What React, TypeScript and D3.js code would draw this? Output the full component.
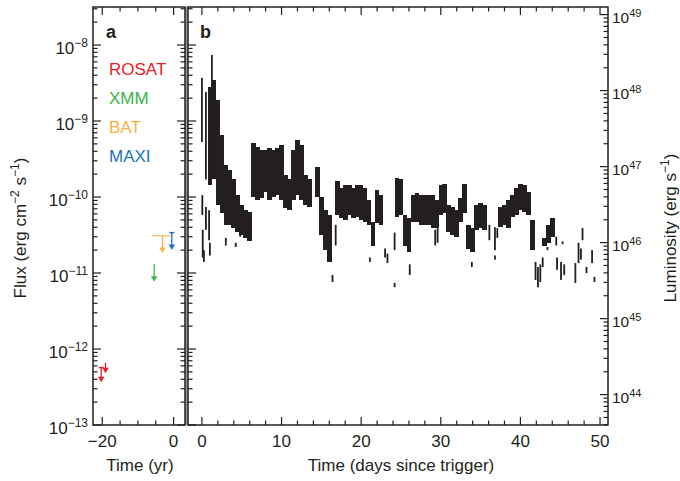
import * as d3 from "d3";
import React from "react";

const FONT = "'Liberation Sans', Arial, Helvetica, sans-serif";
const INK = "#231f20";

// panel b, dense part of the light curve in 0.5 d bins: [day, flux high, flux low]
const denseBins: [number, number, number][] = [
  [1.0, 2.8e-9, 1.45e-10], [1.5, 3.5e-9, 1.7e-10], [2.0, 1.9e-9, 7.9e-11],
  [2.5, 6.6e-10, 6.2e-11], [3.0, 2.6e-10, 4.3e-11], [3.5, 2.3e-10, 4.3e-11],
  [4.0, 1.7e-10, 3.9e-11], [4.5, 1.06e-10, 3.5e-11], [5.0, 7.9e-11, 3.2e-11],
  [5.5, 6.7e-11, 2.9e-11], [6.0, 6.4e-11, 2.6e-11], [6.5, 5.1e-10, 1.0e-10],
  [7.0, 4.5e-10, 9.1e-11], [7.5, 4.15e-10, 9.7e-11], [8.0, 4.15e-10, 1.16e-10],
  [8.5, 4.4e-10, 9.1e-11], [9.0, 4.15e-10, 1.0e-10], [9.5, 4.4e-10, 1.06e-10],
  [10.0, 4.8e-10, 9.1e-11], [10.5, 1.95e-10, 7.2e-11], [11.0, 1.7e-10, 6.7e-11],
  [11.5, 4.15e-10, 9.1e-11], [12.0, 5.6e-10, 1.06e-10], [12.5, 4.8e-10, 9.1e-11],
  [13.0, 1.95e-10, 7.9e-11], [13.5, 1.7e-10, 7.4e-11], [14.5, 2.5e-10, 1.0e-10],
  [15.0, 1.0e-10, 3.2e-11], [15.5, 6.7e-11, 2.0e-11], [16.0, 5.8e-11, 1.4e-11],
  [17.0, 1.6e-10, 5.8e-11], [17.5, 1.3e-10, 5.3e-11], [18.0, 1.44e-10, 5.0e-11],
  [18.5, 1.44e-10, 5.8e-11], [19.0, 1.3e-10, 5.3e-11], [19.5, 1.44e-10, 5.5e-11],
  [20.0, 1.44e-10, 5.0e-11], [20.5, 1.3e-10, 4.7e-11], [21.0, 9.1e-11, 4.3e-11],
  [21.5, 4.7e-11, 2.3e-11], [22.0, 1.24e-10, 4.5e-11], [22.5, 1.06e-10, 4.3e-11],
  [24.5, 1.8e-10, 5.5e-11], [25.0, 1.7e-10, 5.8e-11], [25.5, 5.8e-11, 2.3e-11],
  [26.0, 5.3e-11, 1.9e-11], [26.5, 1.06e-10, 4.7e-11], [27.0, 1.13e-10, 4.7e-11],
  [27.5, 1.06e-10, 4.3e-11], [28.0, 1.06e-10, 4.3e-11], [28.5, 1.06e-10, 4.3e-11],
  [29.0, 1.06e-10, 3.9e-11], [29.5, 9.1e-11, 3.9e-11], [30.0, 1.44e-10, 5.8e-11],
  [30.5, 1.5e-10, 6.2e-11], [31.0, 7.9e-11, 3.5e-11], [31.5, 7.4e-11, 3.2e-11],
  [32.0, 6.7e-11, 3.0e-11], [32.5, 9.7e-11, 4.7e-11], [33.0, 1.5e-10, 6.2e-11],
  [33.5, 4.3e-11, 2.1e-11], [34.0, 3.9e-11, 1.9e-11], [34.5, 7.9e-11, 3.7e-11],
  [35.0, 8.3e-11, 3.9e-11], [35.5, 7.9e-11, 3.7e-11], [37.5, 7.4e-11, 4.0e-11],
  [38.0, 7.9e-11, 4.3e-11], [38.5, 9.1e-11, 3.9e-11], [39.0, 1.06e-10, 5.5e-11],
  [39.5, 1.3e-10, 5.8e-11], [40.0, 1.5e-10, 6.7e-11], [40.5, 1.44e-10, 6.4e-11],
  [41.0, 1.16e-10, 5.8e-11], [41.5, 5.0e-11, 2.0e-11], [43.0, 2.9e-11, 2.3e-11],
  [43.5, 4.3e-11, 2.5e-11], [44.0, 5.3e-11, 3.0e-11],
];

// isolated measurements: [day, flux high, flux low]
const sparsePoints: [number, number, number][] = [
  [0.0, 3.7e-9, 5.3e-10], [0.5, 2.4e-9, 1.7e-10], [1.25, 7.4e-9, 1.8e-10],
  [0.05, 1.06e-10, 5.8e-11], [0.1, 3.7e-11, 1.6e-11], [0.25, 2.0e-11, 1.4e-11],
  [0.5, 7.4e-11, 3.7e-11], [0.9, 6.7e-11, 2.7e-11], [1.0, 2.5e-11, 1.7e-11],
  [3.0, 2.9e-11, 2.3e-11], [4.25, 2.5e-11, 2.2e-11], [4.8, 3.7e-11, 3.0e-11],
  [5.9, 3.7e-11, 2.9e-11], [16.4, 9.4e-12, 7.6e-12], [16.8, 4.3e-11, 2.3e-11],
  [21.1, 1.6e-11, 1.4e-11], [23.0, 2.1e-11, 1.6e-11], [23.3, 1.8e-11, 1.35e-11],
  [24.2, 3.4e-11, 2.0e-11], [24.2, 7.4e-12, 6.5e-12], [26.1, 1.3e-11, 9.4e-12],
  [29.3, 3.7e-11, 2.3e-11], [29.6, 4.5e-11, 2.5e-11], [33.9, 1.4e-11, 1.2e-11],
  [36.1, 4.3e-11, 2.7e-11], [36.8, 4.0e-11, 2.0e-11], [36.8, 1.7e-11, 1.5e-11],
  [37.1, 3.9e-11, 2.9e-11], [41.9, 1.4e-11, 8.1e-12], [42.2, 1.2e-11, 6.5e-12],
  [42.5, 1.3e-11, 7.6e-12], [42.8, 1.6e-11, 1.2e-11], [43.4, 2.2e-11, 2.0e-11],
  [44.5, 3.0e-11, 2.3e-11], [44.6, 1.6e-11, 1.1e-11], [45.1, 1.4e-11, 8.1e-12],
  [45.3, 2.6e-11, 2.4e-11], [45.5, 1.3e-11, 9.4e-12], [46.9, 1.35e-11, 7.4e-12],
  [47.3, 2.5e-11, 1.35e-11], [47.6, 2.1e-11, 1.5e-11], [47.8, 3.9e-11, 2.7e-11],
  [48.3, 1.2e-11, 1.0e-11], [49.0, 2.0e-11, 1.35e-11], [49.3, 8.9e-12, 7.6e-12],
];

const instruments = ["ROSAT", "XMM", "BAT", "MAXI"];
const instrumentColors = ["#ed1c24", "#39b54a", "#fbb040", "#1c75bc"];

// archival upper limits (panel a): years, observation span, limit, arrow tip
const limits = [
  { inst: "ROSAT", t: -20.3, t0: -21.0, t1: -19.6, flux: 5.7e-13, tip: 3.65e-13 },
  { inst: "ROSAT", t: -19.1, t0: -19.1, t1: -19.1, flux: 6.6e-13, tip: 4.8e-13 },
  { inst: "XMM", t: -5.45, t0: -5.45, t1: -5.45, flux: 1.3e-11, tip: 7.7e-12 },
  { inst: "BAT", t: -3.1, t0: -6.0, t1: -0.4, flux: 3.1e-11, tip: 1.83e-11 },
  { inst: "MAXI", t: -0.5, t0: -1.2, t1: 0.2, flux: 3.4e-11, tip: 2.0e-11 },
];

const fluxExponents = [-13, -12, -11, -10, -9, -8];
const lumExponents = [44, 45, 46, 47, 48, 49];
const yearTicks = [-20, -15, -10, -5, 0];
const yearLabels = [-20, 0];
const dayTicks = [0, 2, 4, 6, 8, 10, 12, 14, 16, 18, 20, 22, 24, 26, 28, 30, 32, 34, 36, 38, 40, 42, 44, 46, 48, 50];
const dayLabels = [0, 10, 20, 30, 40, 50];
const LUM_OFFSET = Math.pow(10, 56.6); // flux -> luminosity

const App = () => {
  const ref = React.useRef<SVGSVGElement>(null);

  React.useEffect(() => {
    document.body.style.margin = "0";
    const svg = d3.select(ref.current);
    svg.selectAll("*").remove();

    const top = 7, bottom = 425;
    const aLeft = 93, aRight = 185, bLeft = 188, bRight = 608;

    const y = d3.scaleLog().domain([1e-13, Math.pow(10, -7.5)]).range([bottom, top]);
    const yLum = d3.scaleLog()
      .domain([1e-13 * LUM_OFFSET, Math.pow(10, -7.5) * LUM_OFFSET])
      .range([bottom, top]);
    const xYr = d3.scaleLinear().domain([-22.6, 3.2]).range([aLeft, aRight]);
    const xDay = d3.scaleLinear().domain([-1.75, 51]).range([bLeft, bRight]);

    const g = svg.append("g");

    // light curve (bins overlap a touch so no hairline gaps show)
    g.selectAll(".bin")
      .data(denseBins)
      .enter()
      .append("rect")
      .attr("x", (d) => xDay(d[0] - 0.25) - 0.3)
      .attr("width", (d) => xDay(d[0] + 0.25) - xDay(d[0] - 0.25) + 0.6)
      .attr("y", (d) => y(d[1]))
      .attr("height", (d) => y(d[2]) - y(d[1]))
      .attr("fill", INK)
      .attr("shape-rendering", "crispEdges");

    g.selectAll(".pt")
      .data(sparsePoints)
      .enter()
      .append("rect")
      .attr("x", (d) => xDay(d[0]) - 0.9)
      .attr("width", 1.8)
      .attr("y", (d) => y(d[1]))
      .attr("height", (d) => Math.max(2, y(d[2]) - y(d[1])))
      .attr("fill", INK);

    // upper limits
    limits.forEach((l) => {
      const c = instrumentColors[instruments.indexOf(l.inst)];
      const x = xYr(l.t);
      const y0 = y(l.flux), y1 = y(l.tip);
      if (l.t1 > l.t0) {
        g.append("line")
          .attr("x1", xYr(l.t0)).attr("x2", xYr(l.t1))
          .attr("y1", y0).attr("y2", y0)
          .attr("stroke", c).attr("stroke-width", 1.4)
          .attr("opacity", l.inst === "BAT" ? 0.75 : 1);
      }
      g.append("line")
        .attr("x1", x).attr("x2", x)
        .attr("y1", y0).attr("y2", y1 - 3)
        .attr("stroke", c).attr("stroke-width", 1.3);
      g.append("path")
        .attr("d", `M${x - 3.2},${y1 - 5.5}L${x + 3.2},${y1 - 5.5}L${x},${y1}Z`)
        .attr("fill", c);
    });

    // frames
    g.append("rect")
      .attr("x", aRight).attr("y", top)
      .attr("width", bLeft - aRight).attr("height", bottom - top)
      .attr("fill", "#9d9d9d");
    [[aLeft, aRight], [bLeft, bRight]].forEach(([l, r]) => {
      g.append("rect")
        .attr("x", l).attr("y", top)
        .attr("width", r - l).attr("height", bottom - top)
        .attr("fill", "none").attr("stroke", INK).attr("stroke-width", 1.5);
    });

    const tick = (x1: number, y1: number, x2: number, y2: number) =>
      g.append("line")
        .attr("x1", x1).attr("y1", y1).attr("x2", x2).attr("y2", y2)
        .attr("stroke", INK).attr("stroke-width", 1.2);

    const logTicks = (scale: d3.ScaleLogarithmic<number, number>, exps: number[], x: number, dir: number) => {
      const [lo, hi] = scale.domain();
      d3.range(exps[0] - 1, exps[exps.length - 1] + 1).forEach((e) => {
        d3.range(1, 10).forEach((m) => {
          const v = m * Math.pow(10, e);
          if (v < lo * 0.999 || v > hi * 1.001) return;
          const len = m === 1 ? 8 : 4.5;
          tick(x, scale(v), x + dir * len, scale(v));
        });
      });
    };
    logTicks(y, fluxExponents, aLeft, 1);
    logTicks(y, fluxExponents, aRight, -1);
    logTicks(y, fluxExponents, bLeft, 1);
    logTicks(yLum, lumExponents, bRight, -1);

    yearTicks.forEach((t) => {
      const len = yearLabels.includes(t) ? 8 : 4.5;
      tick(xYr(t), top, xYr(t), top + len);
      tick(xYr(t), bottom, xYr(t), bottom - len);
    });
    dayTicks.forEach((t) => {
      const len = dayLabels.includes(t) ? 8 : 4.5;
      tick(xDay(t), top, xDay(t), top + len);
      tick(xDay(t), bottom, xDay(t), bottom - len);
    });

    const minus = (n: number) => (n < 0 ? "\u2212" + Math.abs(n) : String(n));

    // flux tick labels
    fluxExponents.forEach((e) => {
      const t = g.append("text")
        .attr("x", 88).attr("y", y(Math.pow(10, e)) + 9)
        .attr("text-anchor", "end")
        .attr("font-family", FONT).attr("font-size", 17).attr("fill", INK);
      t.append("tspan").text("10");
      t.append("tspan").attr("dy", -7).attr("font-size", 12).text(minus(e));
    });
    // luminosity tick labels
    lumExponents.forEach((e) => {
      const t = g.append("text")
        .attr("x", 612).attr("y", yLum(Math.pow(10, e)) + 8)
        .attr("font-family", FONT).attr("font-size", 15.5).attr("fill", INK);
      t.append("tspan").text("10");
      t.append("tspan").attr("dy", -6).attr("font-size", 11).text(String(e));
    });

    yearLabels.forEach((t) => {
      g.append("text")
        .attr("x", xYr(t)).attr("y", 447)
        .attr("text-anchor", "middle")
        .attr("font-family", FONT).attr("font-size", 17).attr("fill", INK)
        .text(minus(t));
    });
    dayLabels.forEach((t) => {
      g.append("text")
        .attr("x", xDay(t)).attr("y", 447)
        .attr("text-anchor", "middle")
        .attr("font-family", FONT).attr("font-size", 17).attr("fill", INK)
        .text(String(t));
    });

    // axis titles
    g.append("text")
      .attr("x", 140).attr("y", 471).attr("text-anchor", "middle")
      .attr("font-family", FONT).attr("font-size", 17).attr("fill", INK)
      .text("Time (yr)");
    g.append("text")
      .attr("x", 401).attr("y", 471).attr("text-anchor", "middle")
      .attr("font-family", FONT).attr("font-size", 17).attr("fill", INK)
      .text("Time (days since trigger)");

    const fluxTitle = g.append("text")
      .attr("transform", "translate(26,228) rotate(-90)")
      .attr("text-anchor", "middle")
      .attr("font-family", FONT).attr("font-size", 17).attr("fill", INK);
    fluxTitle.append("tspan").text("Flux (erg cm");
    fluxTitle.append("tspan").attr("dy", -7).attr("font-size", 12).text("\u22122");
    fluxTitle.append("tspan").attr("dy", 7).text(" s");
    fluxTitle.append("tspan").attr("dy", -7).attr("font-size", 12).text("\u22121");
    fluxTitle.append("tspan").attr("dy", 7).text(")");

    const lumTitle = g.append("text")
      .attr("transform", "translate(676,228) rotate(-90)")
      .attr("text-anchor", "middle")
      .attr("font-family", FONT).attr("font-size", 17).attr("fill", INK);
    lumTitle.append("tspan").text("Luminosity (erg s");
    lumTitle.append("tspan").attr("dy", -7).attr("font-size", 12).text("\u22121");
    lumTitle.append("tspan").attr("dy", 7).text(")");

    // panel letters
    g.append("text").attr("x", 106).attr("y", 38)
      .attr("font-family", FONT).attr("font-size", 18).attr("font-weight", "bold").attr("fill", INK)
      .text("a");
    g.append("text").attr("x", 200).attr("y", 38)
      .attr("font-family", FONT).attr("font-size", 18).attr("font-weight", "bold").attr("fill", INK)
      .text("b");

    // legend
    instruments.forEach((name, i) => {
      g.append("text")
        .attr("x", 109).attr("y", 75 + i * 29)
        .attr("font-family", FONT).attr("font-size", 17)
        .attr("fill", instrumentColors[i])
        .text(name);
    });
  }, []);

  return (
    <svg
      ref={ref}
      width={680}
      height={481}
      style={{ position: "absolute", left: 0, top: 0, background: "#fff" }}
    />
  );
};

export default App;
